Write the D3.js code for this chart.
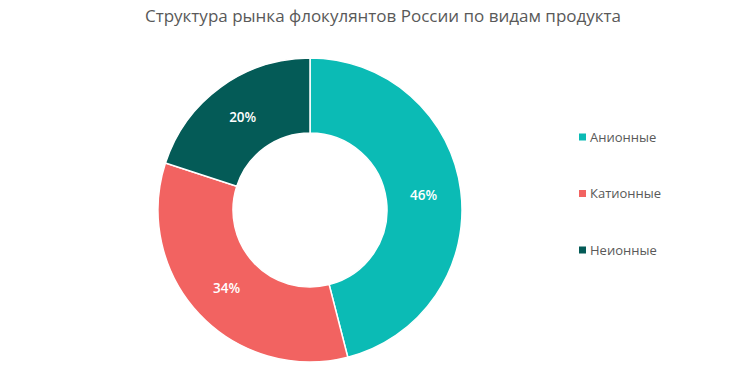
<!DOCTYPE html>
<html>
<head>
<meta charset="UTF-8">
<script src="https://cdn.jsdelivr.net/npm/d3@7"></script>
<style>
  body { margin: 0; background: #fff; }
  text { font-family: "Open Sans", "Noto Sans", sans-serif; }
</style>
</head>
<body>
<svg width="747" height="385"></svg>
<script>
var categories = ["Анионные", "Катионные", "Неионные"];
var values = [46, 34, 20];
var colors = ["#0BBBB5", "#F26361", "#045B57"];

var svg = d3.select("svg");
var cx = 310, cy = 210, rOuter = 152, rInner = 77;

svg.append("text")
  .attr("x", 383).attr("y", 22)
  .attr("text-anchor", "middle")
  .attr("font-size", 17)
  .attr("fill", "#595959")
  .text("Структура рынка флокулянтов России по видам продукта");

var pie = d3.pie().sort(null).value(function(d){ return d; });
var arcs = pie(values);
var arc = d3.arc().innerRadius(rInner).outerRadius(rOuter);

var g = svg.append("g").attr("transform", "translate(" + cx + "," + cy + ")");
g.selectAll("path")
  .data(arcs)
  .enter()
  .append("path")
  .attr("d", arc)
  .attr("fill", function(d, i){ return colors[i]; })
  .attr("stroke", "#fff")
  .attr("stroke-width", 1.5);

g.selectAll("text")
  .data(arcs)
  .enter()
  .append("text")
  .attr("transform", function(d){ return "translate(" + arc.centroid(d) + ")"; })
  .attr("text-anchor", "middle")
  .attr("dy", "0.35em")
  .attr("font-size", 13.5)
  .attr("font-weight", 600)
  .attr("fill", "#fff")
  .text(function(d){ return d.data + "%"; });

var y = d3.scalePoint().domain(categories).range([137, 250]);
var lg = svg.append("g").selectAll("g")
  .data(categories)
  .enter()
  .append("g")
  .attr("transform", function(d){ return "translate(579," + y(d) + ")"; });
lg.append("rect")
  .attr("x", 0).attr("y", -3.5)
  .attr("width", 7).attr("height", 7)
  .attr("fill", function(d, i){ return colors[i]; });
lg.append("text")
  .attr("x", 11).attr("dy", "0.35em")
  .attr("font-size", 13)
  .attr("fill", "#595959")
  .text(function(d){ return d; });
</script>
</body>
</html>
